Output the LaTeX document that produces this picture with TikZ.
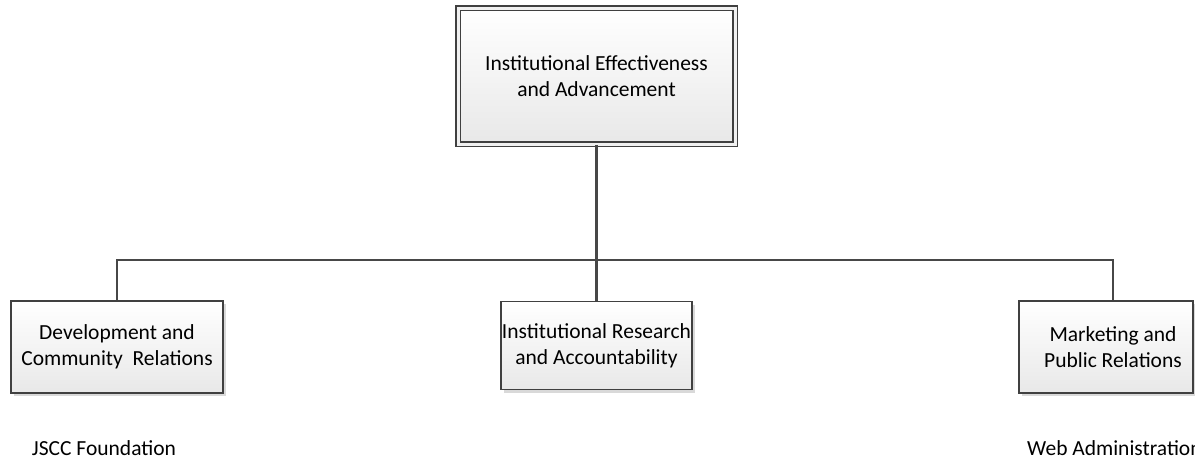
\documentclass[tikz,border=0pt]{standalone}
\usepackage{fontspec}
\setmainfont{Carlito}
\usetikzlibrary{shadows}
\tikzset{
  unitbox/.style={draw=black!75, line width=1.6pt, top color=white, bottom color=black!9,
    drop shadow={shadow xshift=3pt, shadow yshift=-3pt, fill=black, opacity=0.15},
    align=center, inner sep=0pt, font=\fontsize{21.5}{26}\selectfont},
  headbox/.style={unitbox, double=white!94!black, double distance=3pt, line width=1.6pt},
  link/.style={draw=black!72, line width=2.2pt},
  sublabel/.style={font=\fontsize{21.5}{26}\selectfont, inner sep=0pt}
}
\begin{document}
\begin{tikzpicture}[x=1pt,y=-1pt]
\useasboundingbox (0,0) rectangle (1195,461);
\node[headbox, minimum width=277pt, minimum height=136pt] (head) at (596.5,76) {Institutional Effectiveness\\and Advancement};
\node[unitbox, minimum width=212pt, minimum height=92pt] (dev) at (117,347) {Development and\\Community\ \ Relations};
\node[unitbox, minimum width=191pt, minimum height=88pt] (research) at (596.5,345.5) {Institutional Research\\and Accountability};
\node[unitbox, minimum width=174pt, minimum height=92pt] (market) at (1106,347) {\hspace*{14pt}Marketing and\\\hspace*{14pt}Public Relations};
\coordinate (bus) at (596.5,260);
\draw[link] (head.south) -- (research.north);
\draw[link] (dev.north) |- (bus) -| ([xshift=7pt]market.north);
\node[sublabel] (found) at (104,448) {JSCC Foundation};
\node[sublabel, anchor=west] (web) at (1027,448) {Web Administration};
\end{tikzpicture}
\end{document}
